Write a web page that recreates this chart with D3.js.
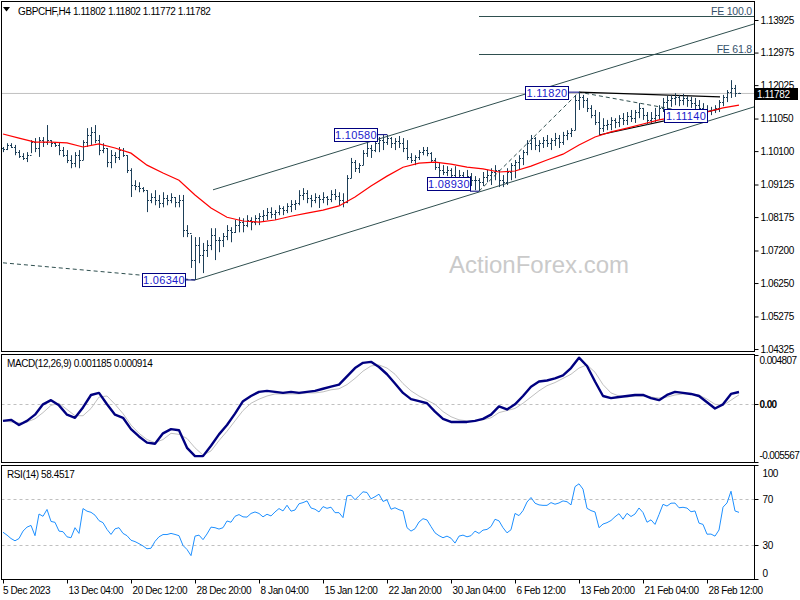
<!DOCTYPE html>
<html><head><meta charset="utf-8">
<script src="https://cdn.jsdelivr.net/npm/d3@7/dist/d3.min.js"></script>
<style>body{margin:0;background:#fff}svg text{font-family:"Liberation Sans",Arial,sans-serif}</style>
</head><body><svg id="c" width="800" height="600"></svg>
<script>
// ---------- DATA ----------
const symbolText = "GBPCHF,H4  1.11802 1.11802 1.11772 1.11782";
const macdTitle = "MACD(12,26,9) 0.001185 0.000914";
const rsiTitle = "RSI(14) 58.4517";
const lastPrice = 1.11782;
const high = [1.1022,1.1033,1.1033,1.1028,1.1013,1.1004,1.1007,1.1042,1.1048,1.1051,
1.1051,1.1086,1.1042,1.1036,1.1036,1.1022,1.1013,1.0998,1.1007,1.1013,
1.1042,1.1077,1.1080,1.1086,1.1057,1.1033,1.1019,1.1013,1.1007,1.1022,
1.1019,1.0998,1.0960,1.0925,1.0919,1.0905,1.0896,1.0887,1.0896,1.0882,
1.0890,1.0882,1.0887,1.0876,1.0882,1.0882,1.0794,1.0765,1.0759,1.0759,
1.0742,1.0750,1.0785,1.0785,1.0759,1.0771,1.0794,1.0788,1.0809,1.0817,
1.0814,1.0823,1.0817,1.0823,1.0829,1.0838,1.0844,1.0846,1.0838,1.0852,
1.0849,1.0858,1.0867,1.0867,1.0896,1.0902,1.0896,1.0882,1.0887,1.0882,
1.0890,1.0879,1.0896,1.0899,1.0890,1.0887,1.0940,1.0990,1.0984,1.0975,
1.1013,1.1036,1.1028,1.1042,1.1051,1.1057,1.1058,1.1051,1.1048,1.1054,
1.1048,1.1042,1.1004,1.0998,1.1013,1.1022,1.1022,1.1007,1.0990,1.0975,
1.0969,1.0966,1.0960,1.0966,1.0955,1.0949,1.0955,1.0946,1.0937,1.0931,
1.0949,1.0955,1.0960,1.0969,1.0955,1.0940,1.0960,1.0975,1.0984,1.0998,
1.1013,1.1042,1.1057,1.1051,1.1042,1.1051,1.1057,1.1048,1.1063,1.1057,
1.1066,1.1071,1.1077,1.1174,1.1182,1.1174,1.1165,1.1144,1.1130,1.1124,
1.1106,1.1101,1.1109,1.1106,1.1115,1.1121,1.1124,1.1130,1.1130,1.1150,
1.1136,1.1124,1.1124,1.1136,1.1144,1.1165,1.1171,1.1174,1.1179,1.1174,
1.1177,1.1171,1.1168,1.1165,1.1159,1.1150,1.1144,1.1139,1.1144,1.1159,
1.1174,1.1188,1.1217,1.1203,1.11802];
const low = [1.1007,1.1013,1.1019,1.0998,1.0990,1.0984,1.0978,1.1004,1.1007,1.0993,
1.1022,1.1028,1.1022,1.1022,1.0998,1.0993,1.0975,1.0960,1.0963,1.0960,
1.0984,1.1022,1.1028,1.1033,1.0998,1.1004,1.0963,1.0960,1.0975,1.0984,
1.0993,1.0946,1.0876,1.0896,1.0890,1.0890,1.0832,1.0858,1.0852,1.0844,
1.0846,1.0852,1.0858,1.0846,1.0846,1.0759,1.0759,1.0669,1.0634,1.0683,
1.0654,1.0701,1.0721,1.0692,1.0715,1.0730,1.0750,1.0744,1.0771,1.0773,
1.0773,1.0788,1.0779,1.0794,1.0794,1.0803,1.0809,1.0814,1.0809,1.0823,
1.0823,1.0829,1.0832,1.0838,1.0852,1.0867,1.0858,1.0846,1.0858,1.0844,
1.0858,1.0852,1.0861,1.0867,1.0852,1.0846,1.0858,1.0931,1.0949,1.0946,
1.0969,1.0993,1.0990,1.1007,1.1007,1.1013,1.1028,1.1019,1.1013,1.1019,
1.1007,1.0984,1.0975,1.0969,1.0984,1.0998,1.0995,1.0978,1.0955,1.0931,
1.0940,1.0937,1.0931,1.0925,1.0919,1.0908,1.0919,1.0908,1.0896,1.0893,
1.0908,1.0919,1.0911,1.0925,1.0905,1.0905,1.0911,1.0925,1.0931,1.0955,
1.0969,1.0998,1.1013,1.1013,1.1007,1.1019,1.1022,1.1013,1.1025,1.1019,
1.1028,1.1042,1.1051,1.1071,1.1130,1.1136,1.1124,1.1106,1.1086,1.1057,
1.1066,1.1071,1.1071,1.1077,1.1080,1.1086,1.1086,1.1095,1.1092,1.1106,
1.1101,1.1086,1.1092,1.1095,1.1101,1.1124,1.1130,1.1139,1.1144,1.1141,
1.1144,1.1139,1.1136,1.1130,1.1124,1.1121,1.1114,1.1115,1.1121,1.1124,
1.1141,1.1153,1.1165,1.1168,1.11772];
const close = [1.1016,1.1028,1.1022,1.1007,1.0995,1.0990,1.0998,1.1036,1.1019,1.1042,
1.1036,1.1042,1.1033,1.1028,1.1013,1.0998,1.0984,1.0975,1.0998,1.0984,
1.1036,1.1057,1.1066,1.1042,1.1013,1.1019,1.0978,1.0998,1.0993,1.1013,
1.0998,1.0955,1.0911,1.0908,1.0902,1.0896,1.0867,1.0876,1.0867,1.0858,
1.0873,1.0867,1.0876,1.0861,1.0867,1.0779,1.0771,1.0692,1.0736,1.0707,
1.0721,1.0736,1.0765,1.0750,1.0750,1.0762,1.0779,1.0773,1.0794,1.0803,
1.0794,1.0809,1.0803,1.0814,1.0820,1.0823,1.0832,1.0826,1.0832,1.0844,
1.0838,1.0849,1.0855,1.0858,1.0882,1.0887,1.0873,1.0867,1.0876,1.0870,
1.0876,1.0870,1.0884,1.0879,1.0867,1.0861,1.0931,1.0978,1.0960,1.0969,
1.1004,1.1019,1.1013,1.1033,1.1042,1.1036,1.1048,1.1033,1.1039,1.1033,
1.1019,1.0993,1.0984,1.0993,1.1007,1.1013,1.1004,1.0984,1.0963,1.0955,
1.0949,1.0955,1.0940,1.0931,1.0940,1.0931,1.0937,1.0925,1.0925,1.0919,
1.0934,1.0940,1.0949,1.0955,1.0925,1.0919,1.0949,1.0969,1.0978,1.0990,
1.1007,1.1033,1.1048,1.1028,1.1033,1.1042,1.1033,1.1042,1.1048,1.1036,
1.1057,1.1063,1.1071,1.1159,1.1168,1.1159,1.1136,1.1115,1.1095,1.1077,
1.1086,1.1089,1.1101,1.1095,1.1106,1.1101,1.1112,1.1106,1.1124,1.1136,
1.1115,1.1101,1.1106,1.1115,1.1136,1.1153,1.1159,1.1165,1.1168,1.1159,
1.1165,1.1159,1.1150,1.1144,1.1136,1.1130,1.1127,1.1130,1.1136,1.1153,
1.1168,1.1182,1.1194,1.1180,1.11782];
const firstOpen = 1.1018;
// moving average, one value every 4 bars
const maStep = 4;
const ma = [1.1060,1.1048,1.1036,1.1036,1.1034,1.1022,1.1031,1.1019,1.1004,1.0969,
1.0946,1.0925,1.0882,1.0844,1.0817,1.0806,1.0803,1.0809,1.0820,1.0829,
1.0838,1.0850,1.0876,1.0908,1.0937,1.0963,1.0975,1.0978,1.0972,1.0963,
1.0958,1.0949,1.0952,1.0966,1.0984,1.1001,1.1028,1.1051,1.1066,1.1077,
1.1089,1.1101,1.1109,1.1115,1.1124,1.1136,1.1144];
// MACD and signal, one value every 2 bars
const macdStep = 2;
const macd = [-0.0016,-0.0015,-0.0020,-0.0016,-0.0010,0.0000,0.0004,-0.0001,-0.0010,-0.0013,
-0.0003,0.0009,0.0011,0.0000,-0.0010,-0.0013,-0.0024,-0.0031,-0.0037,-0.0038,
-0.0028,-0.0024,-0.0025,-0.0042,-0.0050,-0.0050,-0.0040,-0.0029,-0.0020,-0.0009,
0.0003,0.0008,0.0012,0.0013,0.0012,0.0011,0.0012,0.0011,0.0012,0.0013,
0.0015,0.0017,0.0019,0.0027,0.0035,0.0040,0.0041,0.0036,0.0029,0.0020,
0.0011,0.0005,0.0003,0.0001,-0.0007,-0.0014,-0.0017,-0.0017,-0.0017,-0.0016,
-0.0014,-0.0010,-0.0002,-0.0005,0.0000,0.0008,0.0017,0.0022,0.0023,0.0025,
0.0028,0.0035,0.0045,0.0037,0.0022,0.0008,0.0006,0.0007,0.0008,0.0009,
0.0009,0.0006,0.0004,0.0009,0.0012,0.0011,0.0010,0.0008,0.0002,-0.0004,
0.0000,0.0010,0.001185];
const signal = [-0.0016,-0.0017,-0.0018,-0.0017,-0.0014,-0.0008,-0.0001,0.0001,-0.0005,-0.0011,
-0.0011,-0.0004,0.0007,0.0008,0.0000,-0.0009,-0.0020,-0.0028,-0.0034,-0.0037,
-0.0034,-0.0028,-0.0029,-0.0033,-0.0042,-0.0049,-0.0045,-0.0035,-0.0026,-0.0016,
-0.0006,0.0001,0.0005,0.0008,0.0010,0.0010,0.0010,0.0010,0.0011,0.0011,
0.0012,0.0014,0.0015,0.0019,0.0025,0.0032,0.0037,0.0038,0.0035,0.0029,
0.0020,0.0013,0.0008,0.0004,0.0000,-0.0007,-0.0012,-0.0015,-0.0016,-0.0016,
-0.0015,-0.0013,-0.0008,-0.0006,-0.0004,0.0001,0.0007,0.0013,0.0018,0.0021,
0.0025,0.0029,0.0035,0.0038,0.0031,0.0019,0.0011,0.0008,0.0007,0.0008,
0.0008,0.0007,0.0006,0.0007,0.0009,0.0010,0.0010,0.0009,0.0005,0.0000,
-0.0001,0.0004,0.000914];
// RSI, one value per bar
const rsi = [41,38.5,35.5,33.5,35.5,42,45.5,47,38,57,
55,61,50.5,49.7,42,41.5,37,36.2,45,40,
61.8,59.5,58.5,56,51.2,49.4,43.5,39.1,44,45,
40,38,34,32.8,31,29,26.5,27,33,37,
39,39,40,39.1,38,29.4,25.9,20.5,37.6,38.5,
34.5,39.5,45.5,45,43.8,45,50.9,49.8,55,56.5,
54.5,54.3,57.5,58.8,57.5,54.5,56.8,55.3,58.8,61.8,
59.7,64.7,59.5,60.5,66,67,68.5,62.3,61.2,58.8,
63.5,62,63,58.2,58.2,53.8,72.9,73.5,69.5,73,
76.5,75.9,70.3,72.2,74.4,68,69.5,61.2,62.5,60.8,
59.7,45,42,44.1,50,52.9,51.8,46,40.5,38,
36.2,37.6,35.8,31.5,37.6,38.5,37,38,42,40,
42.9,43.5,46,52.4,51,45,40.5,43.2,57.5,55.6,
60,67.5,71.5,66.5,65,64.6,64.6,67,65.6,66.7,
68.5,67.8,65,81,83.5,78.8,62,60,58.8,45,
48.2,49.4,51.3,54.6,57.3,52.4,57.6,54.8,57,62.3,
58.3,49.8,51.9,47.9,56.5,65.5,64,66.5,66.6,62.5,
62.9,62.2,59,59.7,49,47.9,39.3,39.4,37.6,43,
63,66.7,77,59.7,58.4517];
const priceTicks = [1.13925,1.12975,1.12025,1.11050,1.10100,1.09125,1.08175,1.07200,1.06250,1.05275,1.04325];
const macdRange = [-0.005567, 0.004807];
const rsiTicks = [100,70,30,0];
const rsiLevels = [70,30];
const timeLabels = ["5 Dec 2023","13 Dec 04:00","20 Dec 12:00","28 Dec 20:00","8 Jan 04:00","15 Jan 12:00","22 Jan 20:00","30 Jan 04:00","6 Feb 12:00","13 Feb 20:00","21 Feb 04:00","28 Feb 12:00"];
const timeIdx = [0,16,32,48,64,80,96,112,128,144,160,176];
// swing point labels: bar index, price
const swings = [[48,1.0634,"1.06340"],[96,1.1058,"1.10580"],[119,1.0893,"1.08930"],[144,1.1182,"1.11820"],[176,1.1114,"1.11140"]];
// drawn objects (bar index, price)
const channelLower = [[48,1.0634],[187.75,1.1139]];
const channelUpper = [[52.5,1.0897],[187.75,1.1381]];
const oldTrend = [[0,1.0684],[48,1.0634]];
const feLegs = [[119,1.0893],[144,1.1182],[176,1.1114]];
const triUpper = [[144,1.1182],[179.25,1.1168]];
const triLower = [[149,1.1057],[179.25,1.1133]];
const feLevels = [[1.1403,"FE 100.0"],[1.1293,"FE 61.8"]];
const feStart = 119;

// ---------- LAYOUT ----------
const L = 1.5, R = 754.5;
const P1 = [1.5, 351.5], P2 = [354.5, 462.5], P3 = [465.5, 579.5];
const svg = d3.select("#c");
svg.append("rect").attr("width",800).attr("height",600).attr("fill","#fff");
const x = d3.scaleLinear().domain([0,184]).range([3,739]);
const yP = d3.scaleLinear().domain([1.04238,1.14465]).range([352,1.5]);
const yM = d3.scaleLinear().domain(macdRange).range([462,354.5]);
const yR = d3.scaleLinear().domain([0,100]).range([579,465]);
const defs = svg.append("defs");
[["c1",P1],["c2",P2],["c3",P3]].forEach(([id,p])=>{
  defs.append("clipPath").attr("id",id).append("rect").attr("x",L+0.5).attr("y",p[0]+0.5).attr("width",R-L-1).attr("height",p[1]-p[0]-1);
});
const FONT = "Liberation Sans, Arial, sans-serif";
const txt = (g,xx,yy,s,o={}) => g.append("text").attr("x",xx).attr("y",yy).text(s)
  .attr("font-size",o.size||10).attr("fill",o.fill||"#000").attr("text-anchor",o.anchor||"start")
  .attr("font-weight",o.weight||null)
  .attr("letter-spacing",o.ls!==undefined?o.ls:-0.4);

// ---------- MAIN PANEL ----------
const g1 = svg.append("g").attr("clip-path","url(#c1)");
g1.append("text").attr("x",539).attr("y",273).attr("text-anchor","middle").attr("font-size",24)
  .attr("fill","#cacaca").attr("font-family",FONT).text("ActionForex.com");
g1.append("line").attr("x1",L).attr("x2",R).attr("y1",yP(lastPrice)).attr("y2",yP(lastPrice)).attr("stroke","#c0c0c0");
feLevels.forEach(([p,t])=>{
  const yy = Math.round(yP(p))+0.5;
  g1.append("line").attr("x1",x(feStart)).attr("x2",R).attr("y1",yy).attr("y2",yy).attr("stroke","#2f4f4f");
  txt(g1,752,yy-2,t,{anchor:"end",fill:"#34506a",size:10.5,ls:-0.2});
});
const lineGen = d3.line().x(d=>x(d[0])).y(d=>yP(d[1]));
const drawSeg = (pts,color,dash,w) => g1.append("path").attr("d",lineGen(pts)).attr("fill","none")
  .attr("stroke",color).attr("stroke-width",w||1).attr("stroke-dasharray",dash||null);
drawSeg(channelLower,"#2f4f4f");
drawSeg(channelUpper,"#2f4f4f");
drawSeg(oldTrend,"#2f4f4f","4,3");
drawSeg(feLegs,"#2f4f4f","4,3");
drawSeg(triUpper,"#000",null,1.2);
drawSeg(triLower,"#000",null,1.2);
let bp = "";
for (let i=0;i<close.length;i++){
  const xx = Math.round(x(i))+0.5;
  const op = i===0?firstOpen:close[i-1];
  bp += `M${xx},${yP(high[i])}V${yP(low[i])}`;
  bp += `M${xx-1.5},${Math.round(yP(op))+0.5}H${xx}`;
  bp += `M${xx},${Math.round(yP(close[i]))+0.5}H${xx+1.5}`;
}
g1.append("path").attr("d",bp).attr("stroke","#1d3f58").attr("stroke-width",1).attr("fill","none");
g1.append("path").datum(ma).attr("d",d3.line().x((d,i)=>x(i*maStep)).y(d=>yP(d)))
  .attr("fill","none").attr("stroke","#ff0000").attr("stroke-width",1.2);
const gaps = [10,10,9,11,0], dys = [0,0,-8,0,0];
swings.forEach(([i,p,t],k)=>{
  const px = x(i), py = yP(p), w = 43, h = 13;
  const rx = px - gaps[k] - w, cy = py + dys[k];
  if (gaps[k]>0) g1.append("line").attr("x1",rx+w).attr("x2",px).attr("y1",py).attr("y2",py).attr("stroke","#000080");
  g1.append("rect").attr("x",Math.round(rx)+0.5).attr("y",Math.round(cy-h/2)+0.5).attr("width",w).attr("height",h)
    .attr("fill","#fff").attr("stroke","#000080");
  txt(g1,rx+w/2+0.5,cy+4.5,t,{anchor:"middle",fill:"#1a1acc",size:11,ls:0.3});
});
svg.append("path").attr("d","M3,7H10L6.5,11.5Z").attr("fill","#000");
txt(svg,18,14.5,symbolText,{size:10});

// ---------- MACD PANEL ----------
const g2 = svg.append("g").attr("clip-path","url(#c2)");
g2.append("line").attr("x1",L).attr("x2",R).attr("y1",Math.round(yM(0))+0.5).attr("y2",Math.round(yM(0))+0.5)
  .attr("stroke","#c0c0c0").attr("stroke-dasharray","3,3");
const mLine = d3.line().x((d,i)=>x(i*macdStep)).y(d=>yM(d));
g2.append("path").datum(signal).attr("d",mLine).attr("fill","none").attr("stroke","#c0c0c0").attr("stroke-width",1);
g2.append("path").datum(macd).attr("d",mLine).attr("fill","none").attr("stroke","#000080").attr("stroke-width",2.4).attr("stroke-linejoin","round");
txt(svg,7,367,macdTitle,{size:10});

// ---------- RSI PANEL ----------
const g3 = svg.append("g").attr("clip-path","url(#c3)");
rsiLevels.forEach(v=>{
  const yy = Math.round(yR(v))+0.5;
  g3.append("line").attr("x1",L).attr("x2",R).attr("y1",yy).attr("y2",yy).attr("stroke","#c0c0c0").attr("stroke-dasharray","3,3");
});
g3.append("path").datum(rsi).attr("d",d3.line().x((d,i)=>x(i)).y(d=>yR(d)))
  .attr("fill","none").attr("stroke","#1e90ff").attr("stroke-width",1);
txt(svg,7,478,rsiTitle,{size:10});

// ---------- FRAMES ----------
[P1,P2,P3].forEach(p=>svg.append("rect").attr("x",L).attr("y",p[0]).attr("width",R-L).attr("height",p[1]-p[0])
  .attr("fill","none").attr("stroke","#000"));

// ---------- AXES ----------
const ax1 = svg.append("g").attr("transform",`translate(${R},0)`)
  .call(d3.axisRight(yP).tickValues(priceTicks).tickSize(4).tickPadding(2).tickFormat(d3.format(".5f")));
ax1.select(".domain").remove();
ax1.selectAll("text").attr("font-size",10).attr("font-family",FONT).attr("letter-spacing",-0.4).attr("fill","#000");
ax1.selectAll("line").attr("stroke","#000");
const lp = yP(lastPrice);
svg.append("rect").attr("x",755).attr("y",Math.round(lp-5)).attr("width",43).attr("height",12).attr("fill","#000");
txt(svg,757,lp+5,d3.format(".5f")(lastPrice),{fill:"#fff",size:10});
const mt = [[macdRange[1],"0.004807",8,null],[0,"0.00",3.5,"bold"],[macdRange[0],"-0.005567",-4,null]];
mt.forEach(([v,t,dy,wt])=>{
  const yy = Math.round(yM(v))+0.5;
  svg.append("line").attr("x1",R).attr("x2",R+4).attr("y1",yy).attr("y2",yy).attr("stroke","#000");
  txt(svg,R+5,yy+dy,t,{size:10,ls:-0.6,weight:wt});
});
rsiTicks.forEach(v=>{
  const yy = Math.round(yR(v))+0.5;
  const dy = v===100?11:(v===0?-3:3.5);
  svg.append("line").attr("x1",R).attr("x2",R+4).attr("y1",yy).attr("y2",yy).attr("stroke","#000");
  txt(svg,R+8,yy+dy,String(v),{size:10});
});
timeIdx.forEach((i,k)=>{
  const xx = Math.round(x(i))+0.5;
  svg.append("line").attr("x1",xx).attr("x2",xx).attr("y1",P3[1]).attr("y2",P3[1]+4).attr("stroke","#000");
  txt(svg,k===0?3:xx+1,594,timeLabels[k],{size:10});
});
</script></body></html>
